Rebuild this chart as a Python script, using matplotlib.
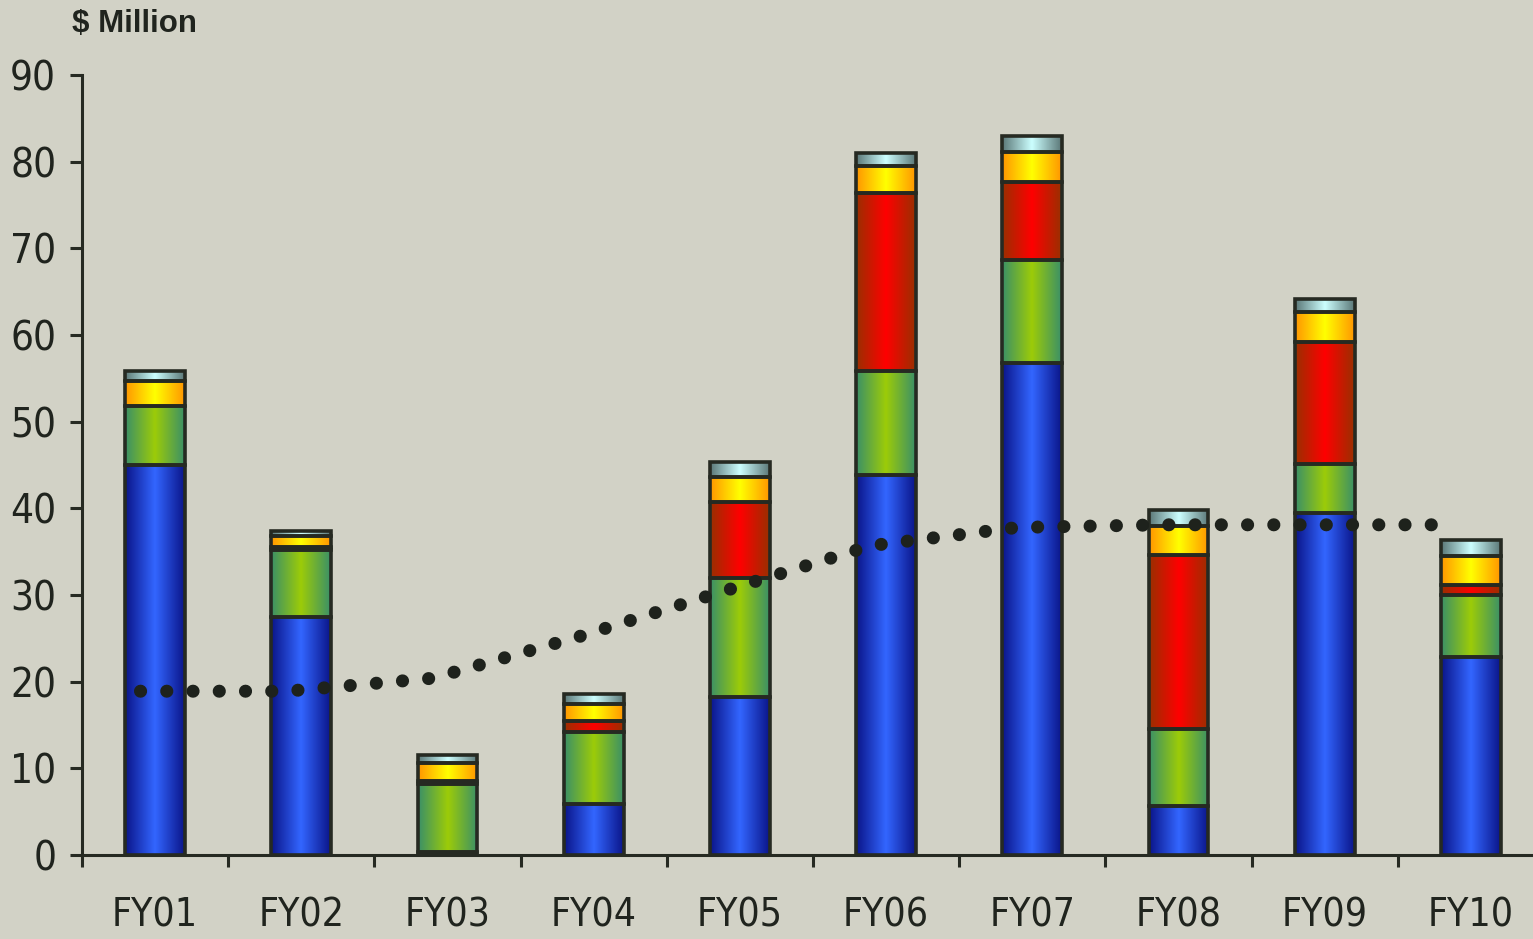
import numpy as np
import matplotlib
matplotlib.use('Agg')
import matplotlib.pyplot as plt
from matplotlib.colors import LinearSegmentedColormap
from matplotlib import font_manager

# ---------------- data ----------------
categories = ['FY01', 'FY02', 'FY03', 'FY04', 'FY05', 'FY06', 'FY07', 'FY08', 'FY09', 'FY10']
blue   = [45.0, 27.5, 0.3, 5.9, 18.2, 43.8, 56.8, 5.7, 39.5, 22.9]
green  = [6.8, 7.7, 7.9, 8.3, 13.8, 12.0, 11.9, 8.8, 5.6, 7.1]
red    = [0.0, 0.3, 0.3, 1.3, 8.7, 20.6, 9.0, 20.1, 14.1, 1.2]
yellow = [2.9, 1.3, 2.1, 1.9, 2.9, 3.1, 3.4, 3.4, 3.4, 3.3]
cyan   = [1.1, 0.6, 0.9, 1.2, 1.7, 1.5, 1.9, 1.8, 1.5, 1.8]
trend  = [18.9, 18.9, 20.4, 25.2, 30.5, 35.7, 37.8, 38.1, 38.1, 38.1]
yticks = [0, 10, 20, 30, 40, 50, 60, 70, 80, 90]
ylabel_text = '$ Million'

# ---------------- style ----------------
BG = '#d2d2c6'
EDGE = '#262a22'
TXT = '#20241e'
seg_colors = [('#0a1488', '#3366ff'),
              ('#3a9068', '#9ccc08'),
              ('#993000', '#ff0000'),
              ('#ff9500', '#ffff00'),
              ('#5a7676', '#ccffff')]

# find a condensed / narrow font file if available
cands = []
for f in font_manager.fontManager.ttflist:
    fn = f.fname.lower()
    if ('narrow' in fn or 'condensed' in fn) and 'bold' not in fn and 'oblique' not in fn \
            and 'italic' not in fn:
        cands.append(f)
pref = ['liberationsansnarrow', 'dejavusanscondensed', 'notosans', 'opensans', 'roboto']
cands.sort(key=lambda f: next((i for i, p in enumerate(pref) if p in f.fname.lower().replace('-', '').replace('_', '')), 99))
if cands:
    narrow_fp = font_manager.FontProperties(fname=cands[0].fname)
else:
    narrow_fp = font_manager.FontProperties(family='DejaVu Sans')
narrow_fp.set_size(29)
xlab_fp = narrow_fp.copy()
xlab_fp.set_size(28)

W, H = 1533, 939
fig = plt.figure(figsize=(W / 100, H / 100), dpi=100, facecolor=BG)
cat_w = 146.2
ax = fig.add_axes([82 / W, 84 / H, (W - 82) / W, 780 / H])
ax.set_facecolor(BG)

x = np.arange(len(categories))
bottom = np.zeros(len(categories))
grad = np.linspace(0, 1, 256).reshape(1, -1)
series = [blue, green, red, yellow, cyan]
for vals, (ce, cc) in zip(series, seg_colors):
    vals = np.asarray(vals, dtype=float)
    bars = ax.bar(x, vals, width=0.41, bottom=bottom, facecolor='none',
                  edgecolor=EDGE, linewidth=2.6, zorder=3)
    cmap = LinearSegmentedColormap.from_list('g', [ce, cc, ce])
    for b, v in zip(bars, vals):
        if v <= 0:
            b.set_visible(False)
            continue
        x0, y0 = b.get_x(), b.get_y()
        w, h = b.get_width(), b.get_height()
        ax.imshow(grad, cmap=cmap, extent=[x0, x0 + w, y0, y0 + h],
                  aspect='auto', zorder=2, interpolation='bilinear')
    bottom += vals

ax.plot(x - 0.1, trend, color='#1e221c', lw=9.4, linestyle=(0, (0.01, 2.0)),
        dash_capstyle='round', solid_capstyle='round', zorder=5)

ax.set_xlim(-0.5, -0.5 + (W - 82) / cat_w)
ax.set_ylim(0, 90)

for s in ['top', 'right']:
    ax.spines[s].set_visible(False)
for s in ['left', 'bottom']:
    ax.spines[s].set_color(EDGE)
    ax.spines[s].set_linewidth(2.2)

ax.set_yticks(yticks)
ax.set_yticklabels([str(v) for v in yticks], fontproperties=narrow_fp, color=TXT)
ax.tick_params(axis='y', direction='out', length=8.6, width=2.2, color=EDGE, pad=10)

ax.set_xticks(np.arange(-0.5, len(categories) - 0.5, 1.0))
ax.set_xticklabels([])
ax.tick_params(axis='x', which='major', direction='out', length=8.6, width=2.2, color=EDGE)
ax.set_xticks(x, minor=True)
ax.set_xticklabels(categories, minor=True, fontproperties=xlab_fp, color=TXT)
ax.tick_params(axis='x', which='minor', length=0, pad=30)

fig.text(72 / W, 1 - 24 / H, ylabel_text, fontfamily='Liberation Sans', fontweight='bold',
         fontsize=22.5, color=TXT, va='center', ha='left')

fig.savefig('out.png', dpi=100, facecolor=BG)
